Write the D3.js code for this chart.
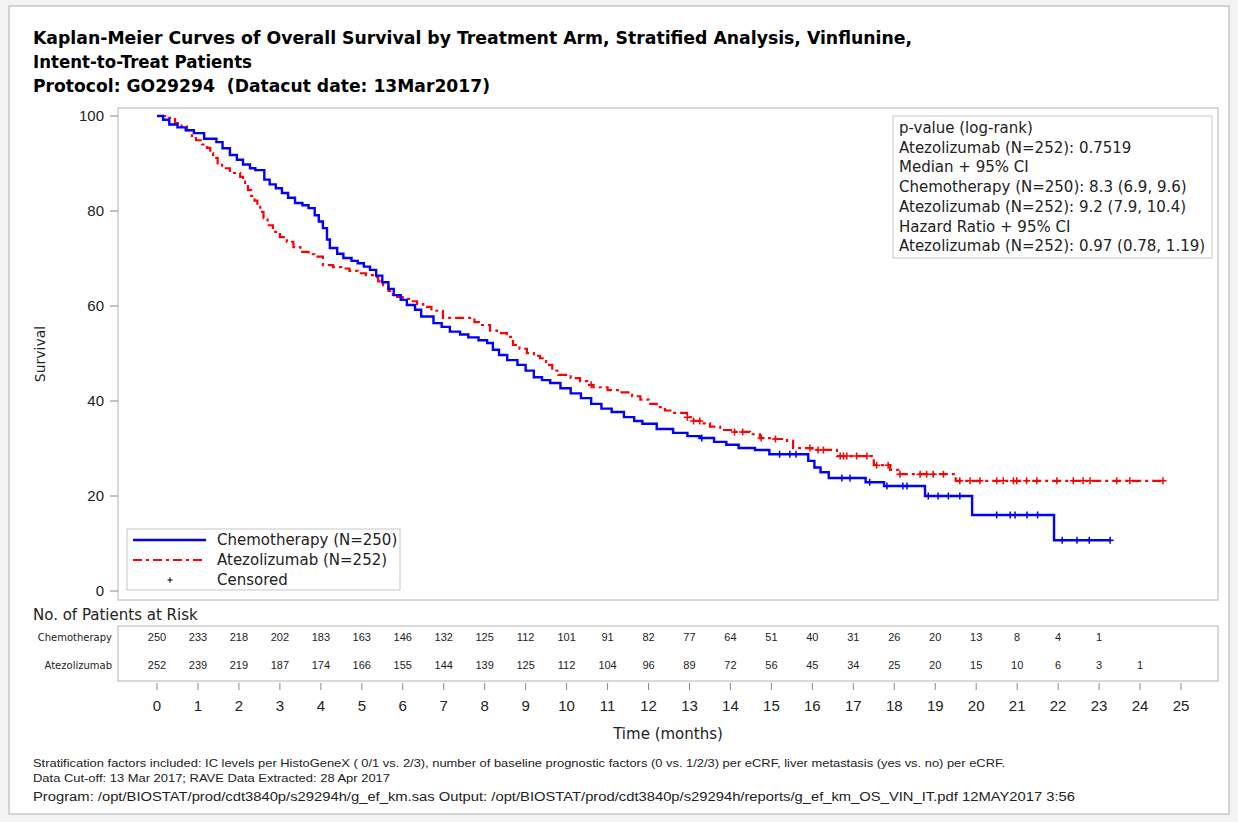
<!DOCTYPE html>
<html>
<head>
<meta charset="utf-8">
<script src="https://cdn.jsdelivr.net/npm/d3@7"></script>
<style>
	body { margin: 0; background: #fff; }
	text { font-family: "DejaVu Sans", Verdana, sans-serif; white-space: pre; }
	text.num { font-family: "Liberation Sans", Arial, sans-serif; }
</style>
</head>
<body>
<div id="chart"></div>
<script>
//DATA
const chemoTime = [0, 0.15, 0.3, 0.5, 0.7, 0.9, 1.15, 1.45, 1.6, 1.78, 1.95, 2.1, 2.27, 2.4, 2.62, 2.75, 2.9, 3.05, 3.2, 3.37, 3.55, 3.7, 3.85, 3.95, 4.05, 4.15, 4.22, 4.4, 4.55, 4.75, 4.9, 5.05, 5.2, 5.35, 5.5, 5.65, 5.78, 5.95, 6.1, 6.3, 6.45, 6.75, 6.95, 7.15, 7.4, 7.6, 7.85, 8.06, 8.2, 8.35, 8.55, 8.8, 9.0, 9.2, 9.4, 9.6, 9.85, 10.1, 10.35, 10.6, 10.85, 11.1, 11.4, 11.65, 11.85, 12.2, 12.6, 12.95, 13.25, 13.6, 13.9, 14.2, 14.6, 14.95, 15.9, 16.05, 16.2, 16.4, 17.3, 17.75, 18.75, 19.9, 21.9, 23.27];
const chemoSurv = [100, 99.2, 98.2, 97.6, 97.0, 96.4, 95.2, 94.5, 93.2, 91.8, 90.8, 89.8, 89.0, 88.6, 86.6, 85.6, 84.8, 83.8, 82.8, 81.7, 81.2, 80.6, 79.1, 77.8, 76.4, 74.0, 72.2, 71.0, 70.1, 69.5, 69.0, 68.3, 67.6, 66.4, 65.0, 63.6, 62.3, 61.3, 60.2, 59.2, 57.8, 56.4, 55.6, 54.6, 54.0, 53.4, 52.8, 52.2, 50.8, 49.7, 48.6, 47.6, 46.4, 45.0, 44.4, 43.8, 42.7, 41.6, 40.6, 39.4, 38.4, 37.7, 36.6, 35.8, 35.2, 34.1, 33.3, 32.6, 32.2, 31.4, 30.8, 30.1, 29.7, 28.8, 27.4, 26.0, 25.0, 23.8, 22.9, 22.1, 20.0, 16.0, 10.7, 10.7];
const chemoCensor = [13.3, 15.2, 15.45, 15.6, 16.72, 16.92, 17.4, 17.82, 18.21, 18.31, 18.83, 19.07, 19.32, 19.6, 20.5, 20.83, 20.95, 21.24, 21.5, 22.1, 22.46, 22.76, 23.27];

const atezoTime = [0, 0.2, 0.44, 0.6, 0.73, 0.85, 0.95, 1.1, 1.22, 1.3, 1.37, 1.48, 1.59, 1.78, 2.03, 2.1, 2.15, 2.22, 2.3, 2.38, 2.45, 2.52, 2.6, 2.7, 2.83, 3.0, 3.17, 3.33, 3.5, 3.7, 3.85, 4.05, 4.3, 4.5, 4.7, 4.9, 5.1, 5.27, 5.4, 5.52, 5.65, 5.76, 6.0, 6.18, 6.35, 6.5, 6.7, 6.98, 7.75, 7.89, 8.13, 8.3, 8.54, 8.69, 8.85, 9.03, 9.2, 9.35, 9.5, 9.65, 9.8, 10.1, 10.33, 10.5, 10.65, 11.0, 11.3, 11.6, 11.8, 12.0, 12.2, 12.4, 12.6, 12.94, 13.1, 13.3, 13.5, 13.75, 14.1, 14.48, 14.72, 15.0, 15.38, 15.53, 16.0, 16.6, 17.5, 17.9, 18.1, 19.5, 24.56];
const atezoSurv = [100, 99.6, 98.5, 97.8, 97.0, 95.8, 94.9, 94.0, 93.3, 92.2, 91.2, 90.0, 89.0, 88.0, 87.2, 86.2, 85.5, 84.4, 83.2, 82.2, 81.2, 79.8, 78.5, 77.0, 75.6, 74.5, 73.5, 72.4, 71.4, 70.9, 70.4, 68.6, 68.2, 67.9, 67.4, 66.9, 66.5, 66.1, 65.2, 64.4, 63.2, 61.9, 61.5, 61.0, 60.4, 59.8, 59.0, 57.5, 56.6, 56.0, 54.8, 54.3, 53.5, 51.8, 51.0, 50.1, 49.5, 49.0, 47.6, 46.4, 45.5, 44.8, 44.2, 43.4, 42.9, 42.3, 41.8, 41.0, 40.3, 39.4, 38.7, 38.0, 37.5, 36.6, 35.8, 35.3, 34.6, 33.9, 33.5, 33.0, 32.2, 32.0, 31.6, 30.1, 29.7, 28.4, 26.5, 25.5, 24.6, 23.2, 23.2];
const atezoCensor = [10.6, 12.95, 13.1, 13.25, 14.1, 14.3, 14.75, 15.1, 15.94, 16.14, 16.27, 16.68, 16.76, 16.84, 17.08, 17.33, 17.57, 17.85, 18.14, 18.63, 18.79, 18.95, 19.2, 19.6, 19.85, 20.09, 20.5, 20.66, 20.91, 20.99, 21.23, 21.48, 21.97, 22.37, 22.61, 22.78, 23.43, 23.75, 24.56];

const riskTimes = d3.range(0, 26);
const chemoRisk = [250, 233, 218, 202, 183, 163, 146, 132, 125, 112, 101, 91, 82, 77, 64, 51, 40, 31, 26, 20, 13, 8, 4, 1];
const atezoRisk = [252, 239, 219, 187, 174, 166, 155, 144, 139, 125, 112, 104, 96, 89, 72, 56, 45, 34, 25, 20, 15, 10, 6, 3, 1];

const yTicks = [0, 20, 40, 60, 80, 100];
const xTicks = d3.range(0, 26);

const titleLines = [
	"Kaplan-Meier Curves of Overall Survival by Treatment Arm, Stratified Analysis, Vinflunine,",
	"Intent-to-Treat Patients",
	"Protocol: GO29294  (Datacut date: 13Mar2017)",
];
const statLines = [
	"p-value (log-rank)",
	"Atezolizumab (N=252): 0.7519",
	"Median + 95% CI",
	"Chemotherapy (N=250): 8.3 (6.9, 9.6)",
	"Atezolizumab (N=252): 9.2 (7.9, 10.4)",
	"Hazard Ratio + 95% CI",
	"Atezolizumab (N=252): 0.97 (0.78, 1.19)",
];
const footLines = [
	"Stratification factors included: IC levels per HistoGeneX ( 0/1 vs. 2/3), number of baseline prognostic factors (0 vs. 1/2/3) per eCRF, liver metastasis (yes vs. no) per eCRF.",
	"Data Cut-off: 13 Mar 2017; RAVE Data Extracted: 28 Apr 2017",
	"Program: /opt/BIOSTAT/prod/cdt3840p/s29294h/g_ef_km.sas Output: /opt/BIOSTAT/prod/cdt3840p/s29294h/reports/g_ef_km_OS_VIN_IT.pdf 12MAY2017 3:56",
];

//DIMENSIONS
const width = 1238,
	height = 822,
	frame = { left: 118, top: 108, right: 1218, bottom: 600 };

const BLUE = "#0000ff",
	RED = "#ff0000",
	TXT = "#222";

const svg = d3
	.select("#chart")
	.append("svg")
	.attr("width", width)
	.attr("height", height);

//OUTER PAGE BORDER
svg
	.append("rect")
	.attr("x", 0)
	.attr("y", 0)
	.attr("width", width)
	.attr("height", height)
	.attr("fill", "#f3f3f3");
svg
	.append("rect")
	.attr("x", 9)
	.attr("y", 6)
	.attr("width", 1220)
	.attr("height", 808)
	.attr("fill", "#fff")
	.attr("stroke", "#c8c8c8")
	.attr("stroke-width", 1.5);

//SCALES
const x = d3.scaleLinear().domain([0, 25]).range([157, 1181]);
const y = d3.scaleLinear().domain([0, 100]).range([591, 116]);

//TITLE
const titleLen = [879, 219, 457];
svg
	.selectAll("text.title")
	.data(titleLines)
	.enter()
	.append("text")
	.attr("class", "title")
	.attr("x", 33)
	.attr("y", (d, i) => 44 + i * 24)
	.attr("textLength", (d, i) => titleLen[i])
	.attr("lengthAdjust", "spacingAndGlyphs")
	.style("font-size", "17px")
	.style("font-weight", "bold")
	.style("fill", "#000")
	.text(d => d);

//PLOT FRAME
svg
	.append("rect")
	.attr("x", frame.left)
	.attr("y", frame.top)
	.attr("width", frame.right - frame.left)
	.attr("height", frame.bottom - frame.top)
	.attr("fill", "none")
	.attr("stroke", "#b4b4b4");

//Y AXIS
const yAxis = svg.append("g");
yAxis
	.selectAll("line")
	.data(yTicks)
	.enter()
	.append("line")
	.attr("x1", frame.left - 8)
	.attr("x2", frame.left)
	.attr("y1", d => y(d))
	.attr("y2", d => y(d))
	.attr("stroke", "#888");
yAxis
	.selectAll("text")
	.data(yTicks)
	.enter()
	.append("text")
	.attr("class", "num")
	.attr("x", frame.left - 14)
	.attr("y", d => y(d) + 5)
	.attr("text-anchor", "end")
	.style("font-size", "15px")
	.style("fill", TXT)
	.text(d => d);

svg
	.append("text")
	.attr("transform", `translate(45, ${(frame.top + frame.bottom) / 2}) rotate(-90)`)
	.attr("text-anchor", "middle")
	.style("font-size", "14px")
	.style("fill", TXT)
	.text("Survival");

//KM CURVES
const line = d3
	.line()
	.x(d => x(d[0]))
	.y(d => y(d[1]))
	.curve(d3.curveStepAfter);

const chemoPts = d3.zip(chemoTime, chemoSurv);
const atezoPts = d3.zip(atezoTime, atezoSurv);

function survAt(times, surv, t) {
	const i = d3.bisectRight(times, t) - 1;
	return surv[Math.max(0, i)];
}

const curves = svg.append("g");

curves
	.append("path")
	.attr("d", line(atezoPts))
	.attr("fill", "none")
	.attr("stroke", RED)
	.attr("stroke-width", 2.2)
	.attr("stroke-dasharray", "9,4,3,4");

curves
	.append("path")
	.attr("d", line(chemoPts))
	.attr("fill", "none")
	.attr("stroke", BLUE)
	.attr("stroke-width", 2.4);

//CENSOR MARKS
const plus = "M-3.5,0H3.5M0,-3.5V3.5";
curves
	.selectAll("path.censorA")
	.data(atezoCensor)
	.enter()
	.append("path")
	.attr("class", "censorA")
	.attr("d", plus)
	.attr("transform", d => `translate(${x(d)},${y(survAt(atezoTime, atezoSurv, d))})`)
	.attr("stroke", RED)
	.attr("stroke-width", 1.5);
curves
	.selectAll("path.censorC")
	.data(chemoCensor)
	.enter()
	.append("path")
	.attr("class", "censorC")
	.attr("d", plus)
	.attr("transform", d => `translate(${x(d)},${y(survAt(chemoTime, chemoSurv, d))})`)
	.attr("stroke", BLUE)
	.attr("stroke-width", 1.5);

//STATS BOX
const stats = svg.append("g").attr("transform", "translate(893,116)");
stats
	.append("rect")
	.attr("width", 319)
	.attr("height", 142)
	.attr("fill", "#fff")
	.attr("stroke", "#c8c8c8");
stats
	.selectAll("text")
	.data(statLines)
	.enter()
	.append("text")
	.attr("x", 6)
	.attr("y", (d, i) => 17 + i * 19.7)
	.style("font-size", "15px")
	.style("fill", TXT)
	.text(d => d);

//LEGEND
const legendItems = [
	{ label: "Chemotherapy (N=250)", kind: "blue" },
	{ label: "Atezolizumab (N=252)", kind: "red" },
	{ label: "Censored", kind: "censor" },
];
const legend = svg.append("g").attr("transform", "translate(127,529)");
legend
	.append("rect")
	.attr("width", 273)
	.attr("height", 61)
	.attr("fill", "#fff")
	.attr("stroke", "#c8c8c8");
const legendItem = legend
	.selectAll(".legend-item")
	.data(legendItems)
	.enter()
	.append("g")
	.attr("class", "legend-item")
	.attr("transform", (d, i) => `translate(0, ${11 + i * 20})`);
legendItem
	.filter(d => d.kind !== "censor")
	.append("line")
	.attr("x1", 6)
	.attr("x2", 79)
	.attr("stroke", d => (d.kind === "blue" ? BLUE : RED))
	.attr("stroke-width", d => (d.kind === "blue" ? 2.4 : 2.2))
	.attr("stroke-dasharray", d => (d.kind === "red" ? "9,4,3,4" : null));
legendItem
	.filter(d => d.kind === "censor")
	.append("path")
	.attr("d", "M-2.5,0H2.5M0,-2.5V2.5")
	.attr("transform", "translate(43,0)")
	.attr("stroke", "#000")
	.attr("stroke-width", 1);
legendItem
	.append("text")
	.attr("x", 90)
	.attr("y", 5)
	.style("font-size", "15px")
	.style("fill", TXT)
	.text(d => d.label);

//AT RISK TABLE
svg
	.append("text")
	.attr("x", 33)
	.attr("y", 620)
	.style("font-size", "15px")
	.style("fill", TXT)
	.text("No. of Patients at Risk");

svg
	.append("rect")
	.attr("x", frame.left)
	.attr("y", 626)
	.attr("width", frame.right - frame.left)
	.attr("height", 55)
	.attr("fill", "none")
	.attr("stroke", "#b4b4b4");

const riskRows = [
	{ name: "Chemotherapy", values: chemoRisk, yy: 641 },
	{ name: "Atezolizumab", values: atezoRisk, yy: 669 },
];
riskRows.forEach(row => {
	svg
		.append("text")
		.attr("x", 112)
		.attr("y", row.yy)
		.attr("text-anchor", "end")
		.style("font-size", "10px")
		.style("fill", TXT)
		.text(row.name);
	svg
		.append("g")
		.selectAll("text")
		.data(row.values)
		.enter()
		.append("text")
		.attr("class", "num")
		.attr("x", (d, i) => x(riskTimes[i]))
		.attr("y", row.yy)
		.attr("text-anchor", "middle")
		.style("font-size", "11px")
		.style("fill", TXT)
		.text(d => d);
});

//X AXIS
const xAxis = svg.append("g");
xAxis
	.selectAll("line")
	.data(xTicks)
	.enter()
	.append("line")
	.attr("x1", d => x(d))
	.attr("x2", d => x(d))
	.attr("y1", 683)
	.attr("y2", 690)
	.attr("stroke", "#888");
xAxis
	.selectAll("text")
	.data(xTicks)
	.enter()
	.append("text")
	.attr("class", "num")
	.attr("x", d => x(d))
	.attr("y", 711)
	.attr("text-anchor", "middle")
	.style("font-size", "15px")
	.style("fill", TXT)
	.text(d => d);

svg
	.append("text")
	.attr("x", (frame.left + frame.right) / 2)
	.attr("y", 739)
	.attr("text-anchor", "middle")
	.style("font-size", "15px")
	.style("fill", TXT)
	.text("Time (months)");

//FOOTNOTES
const footStyle = [
	{ y: 767, size: 10.5, len: 972 },
	{ y: 782, size: 10.5, len: 357 },
	{ y: 801, size: 12.5, len: 1042 },
];
svg
	.selectAll("text.foot")
	.data(footLines)
	.enter()
	.append("text")
	.attr("class", "foot num")
	.attr("x", 33)
	.attr("y", (d, i) => footStyle[i].y)
	.attr("textLength", (d, i) => footStyle[i].len)
	.attr("lengthAdjust", "spacingAndGlyphs")
	.style("font-size", (d, i) => footStyle[i].size + "px")
	.style("fill", TXT)
	.text(d => d);
</script>
</body>
</html>
